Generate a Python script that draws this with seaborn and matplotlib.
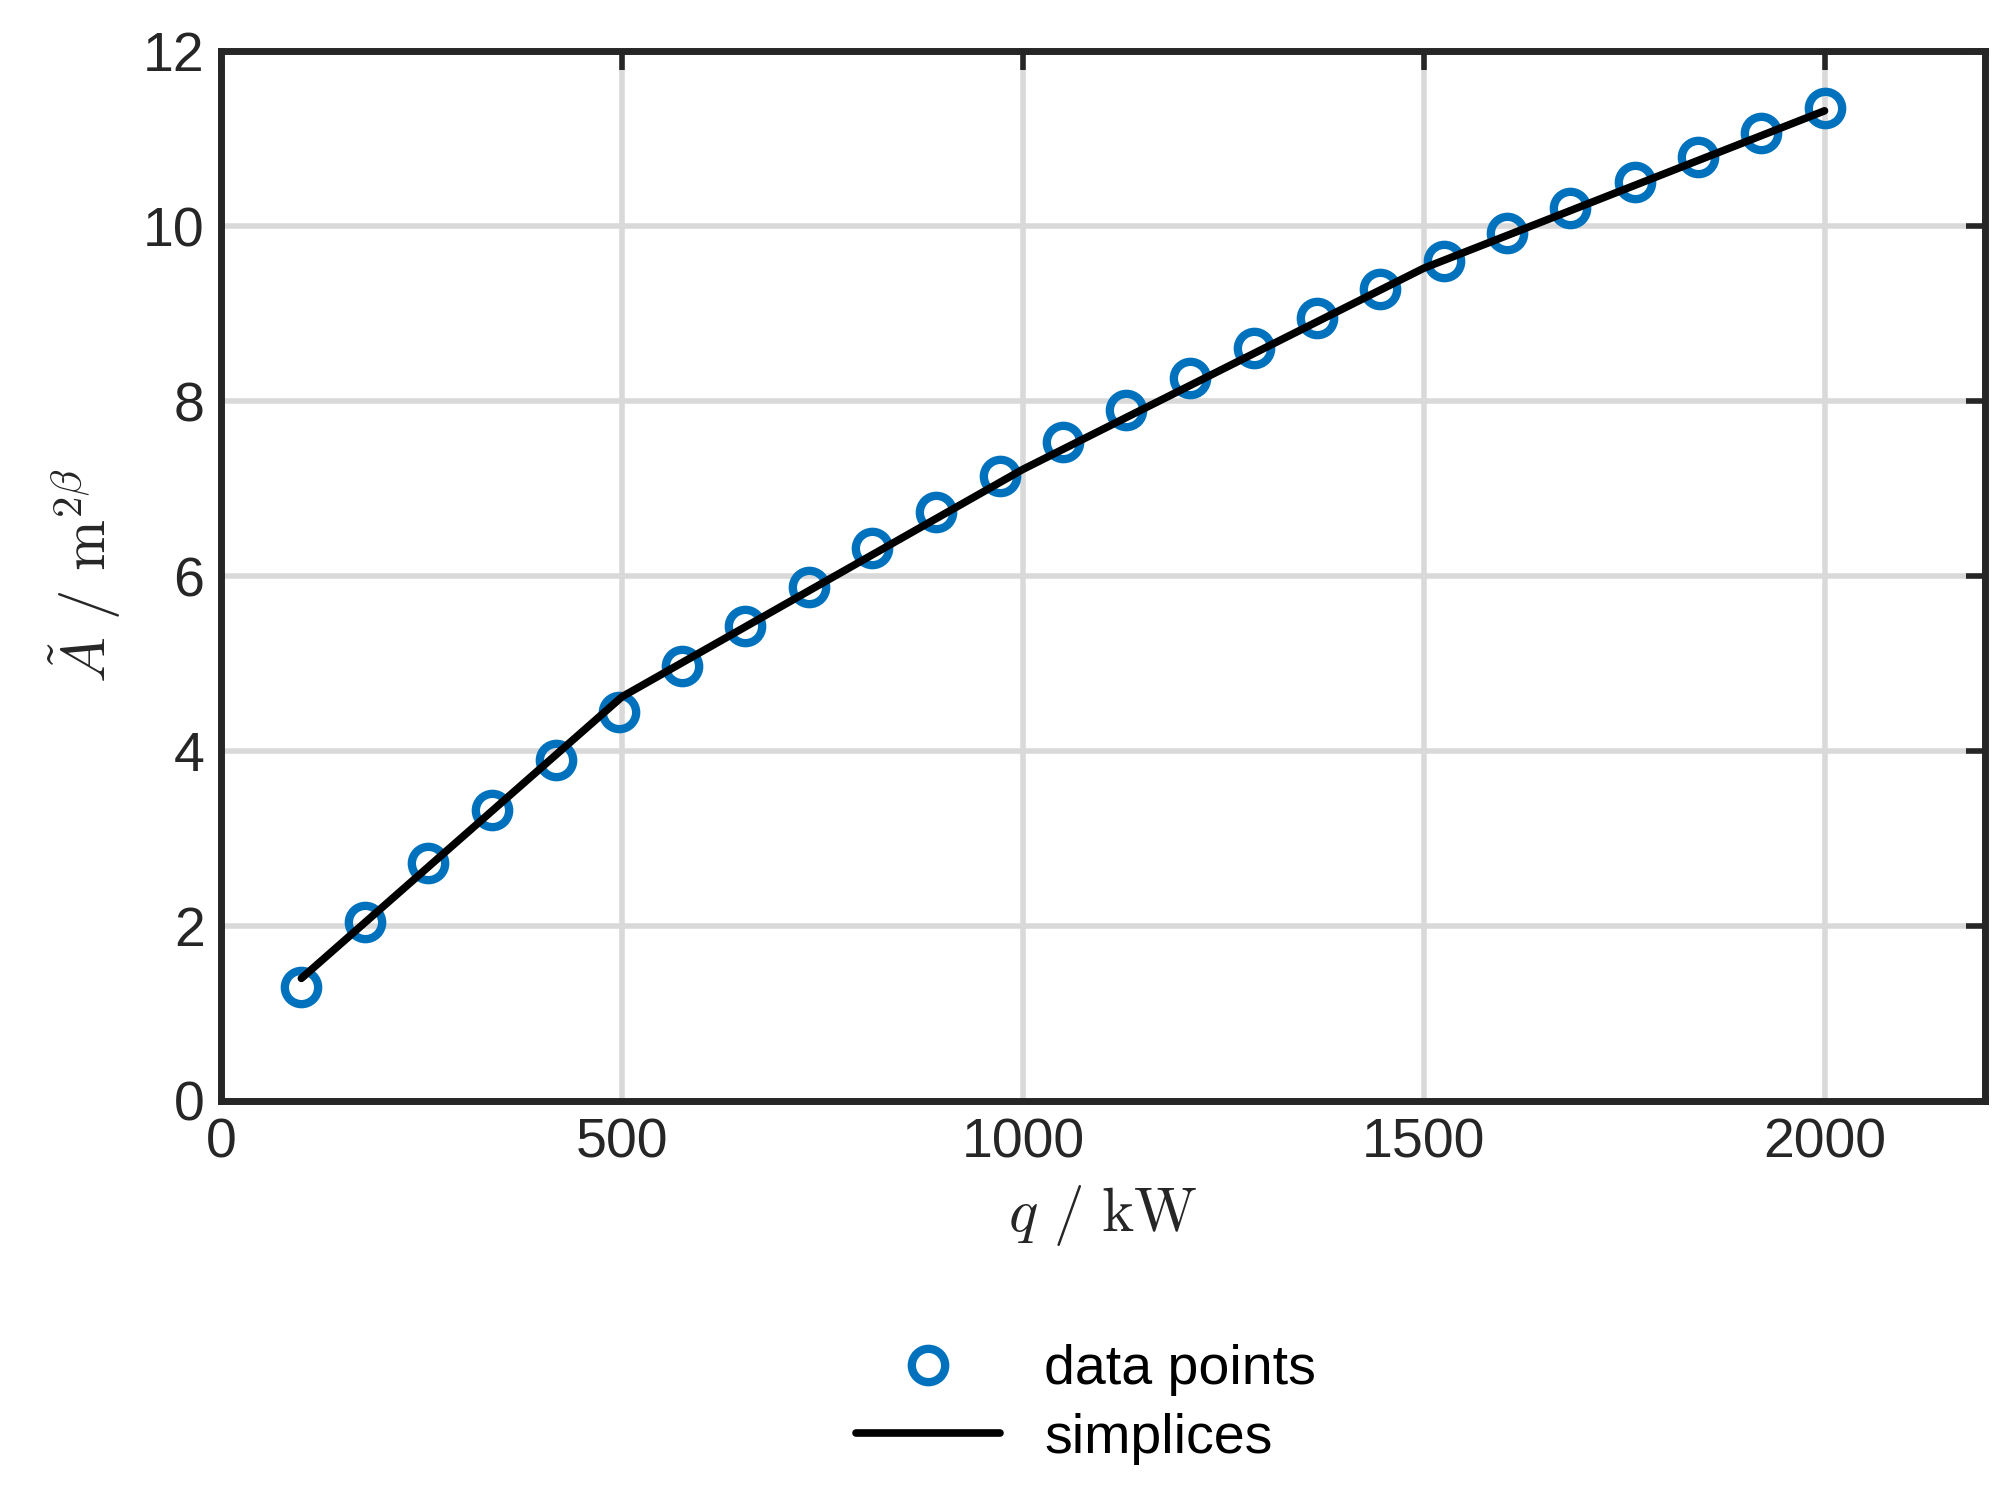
import numpy as np
import pandas as pd
import matplotlib
matplotlib.use('Agg')
import matplotlib.pyplot as plt
import seaborn as sns

# ----- data -----
q_points = [100, 179, 258, 338, 417, 496, 575, 654, 733, 812, 892, 971, 1050,
            1129, 1208, 1288, 1367, 1446, 1525, 1604, 1683, 1763, 1842, 1921, 2000]
a_points = [1.30, 2.05, 2.72, 3.33, 3.90, 4.45, 4.97, 5.43, 5.88, 6.32, 6.73, 7.14, 7.53,
            7.90, 8.27, 8.61, 8.95, 9.28, 9.60, 9.92, 10.21, 10.51, 10.79, 11.07, 11.35]
q_simplex = [100, 500, 1000, 1500, 2000]
a_simplex = [1.40, 4.62, 7.22, 9.52, 11.32]

df_pts = pd.DataFrame({'q': q_points, 'A': a_points})
df_sim = pd.DataFrame({'q': q_simplex, 'A': a_simplex})

sns.set_style('white')
plt.rcParams['font.family'] = ['Arial', 'Liberation Sans', 'DejaVu Sans']
plt.rcParams['mathtext.fontset'] = 'cm'

fig = plt.figure(figsize=(20.11, 15.10), dpi=100)
ax = fig.add_axes([0.110, 0.271, 0.877, 0.695])

sns.lineplot(data=df_pts, x='q', y='A', ax=ax, linestyle='none', marker='o',
             markersize=24, markerfacecolor='none', markeredgecolor='#0072BD',
             markeredgewidth=6, label='data points')
sns.lineplot(data=df_sim, x='q', y='A', ax=ax, color='black', linewidth=5.5,
             label='simplices')

ax.set_xlim(0, 2200)
ax.set_ylim(0, 12)
ax.set_xticks([0, 500, 1000, 1500, 2000])
ax.set_yticks(range(0, 13, 2))
ax.grid(True, color='#d9d9d9', linewidth=4)
ax.tick_params(direction='in', length=14, width=4, labelsize=40, colors='#262626',
               top=True, right=True, pad=12)
for s in ax.spines.values():
    s.set_linewidth(5)
    s.set_color('#262626')

ax.set_xlabel(r'$q\ /\ \mathrm{kW}$', fontsize=44, labelpad=10)
ax.set_ylabel(r'$\tilde{A}\ /\ \mathrm{m}^{2\beta}$', fontsize=44, labelpad=14)

ax.get_legend().remove()
handles, labels = ax.get_legend_handles_labels()
fig.legend(handles, labels, loc='center', bbox_to_anchor=(0.54, 0.070),
           frameon=False, fontsize=40, handlelength=2.6, labelspacing=0.3,
           labelcolor='black')

fig.savefig('out.png', dpi=100)
